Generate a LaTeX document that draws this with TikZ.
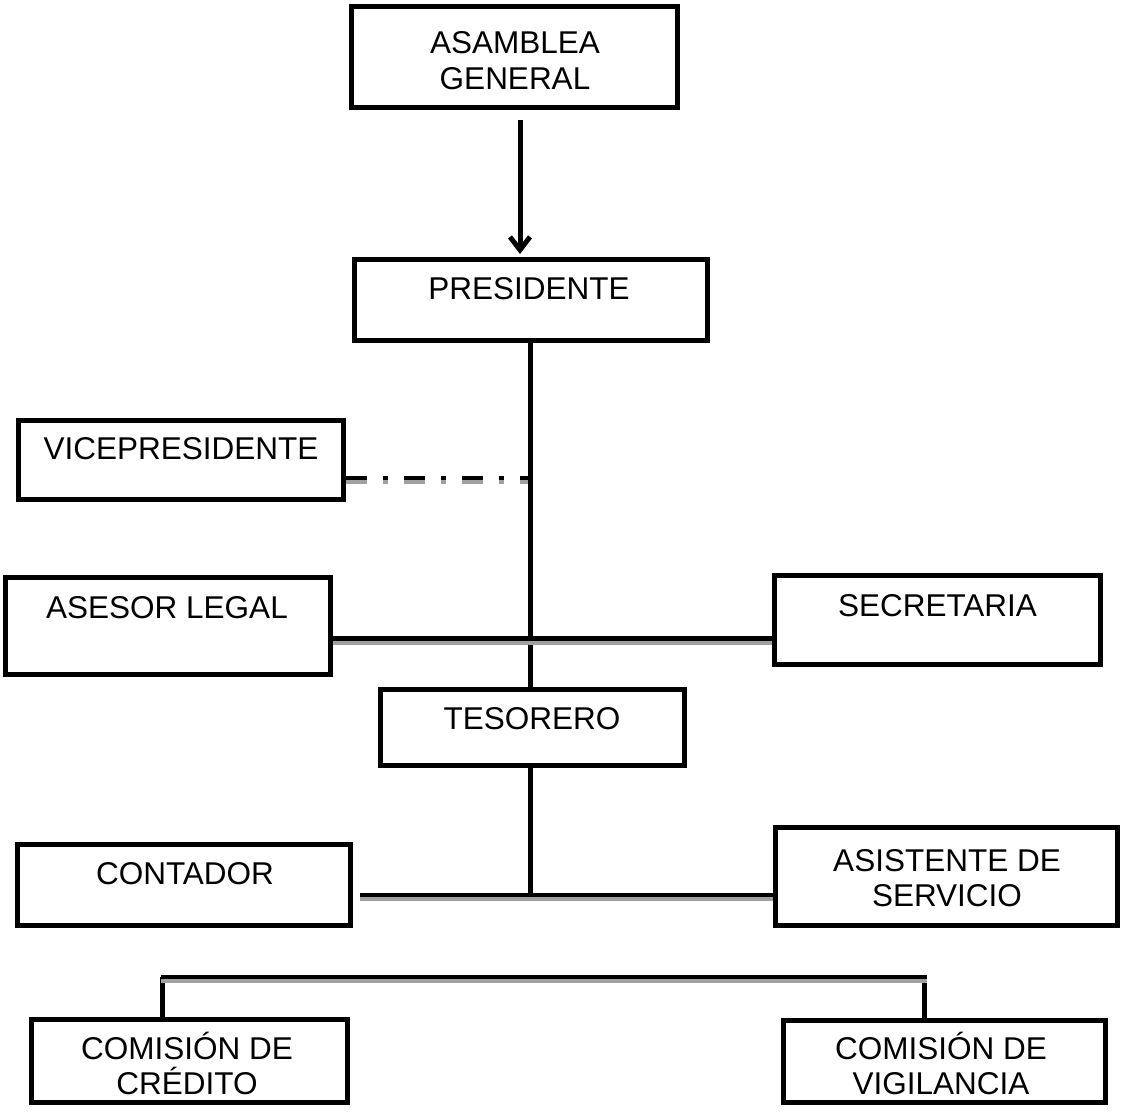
\documentclass[tikz,border=0pt]{standalone}
\usepackage{fontspec}
\setmainfont{Liberation Sans}
\usetikzlibrary{arrows.meta}
\definecolor{linegray}{HTML}{A0A0A0}
\begin{document}
\begin{tikzpicture}[x=1pt,y=-1pt,
  orgbox/.style={draw, line width=5pt, inner sep=0pt, fill=white},
  boxtext/.style={font=\fontsize{31.5}{35.5}\selectfont, anchor=base, align=center, inner sep=0pt},
  trunk/.style={draw, line width=5pt},
  hlink/.style={draw, line width=4.2pt,
    postaction={draw=linegray, line width=4pt, transform canvas={yshift=-4pt}}},
  dashlink/.style={hlink, dash pattern=on 21pt off 16pt on 5pt off 16pt}]
\useasboundingbox (0,0) rectangle (1121,1115);

% guide coordinates for the trunk lines
\coordinate (arrowx) at (520,0);
\coordinate (trunkx) at (530,0);
\coordinate (vicej)  at (528,478);
\coordinate (staffj) at (530,638.5);
\coordinate (opsj)   at (530,895);
\coordinate (comj)   at (0,977);

% boxes
\node[orgbox, minimum width=326, minimum height=101]  (asamblea)   at (514.5,57) {};
\node[orgbox, minimum width=353, minimum height=81]   (presidente) at (531,300) {};
\node[orgbox, minimum width=325, minimum height=79]   (vice)       at (181,460) {};
\node[orgbox, minimum width=325, minimum height=97]   (asesor)     at (168,626) {};
\node[orgbox, minimum width=326, minimum height=89]   (secretaria) at (937.5,620) {};
\node[orgbox, minimum width=304, minimum height=76]   (tesorero)   at (532.5,727.5) {};
\node[orgbox, minimum width=333, minimum height=81]   (contador)   at (184,885) {};
\node[orgbox, minimum width=342, minimum height=98]   (asistente)  at (946.5,876.5) {};
\node[orgbox, minimum width=316, minimum height=83]   (credito)    at (189.5,1061) {};
\node[orgbox, minimum width=322, minimum height=82]   (vigilancia) at (944.5,1061.5) {};

% box texts (multi-line nodes sit on the baseline of their last line)
\node[boxtext] (asamblea-t)   at (515,89.5)   {ASAMBLEA\\GENERAL};
\node[boxtext] (presidente-t) at (529,299.5)  {PRESIDENTE};
\node[boxtext] (vice-t)       at (181,459.5)  {VICEPRESIDENTE};
\node[boxtext] (asesor-t)     at (167,618.5)  {ASESOR LEGAL};
\node[boxtext] (secretaria-t) at (937.5,616.5) {SECRETARIA};
\node[boxtext] (tesorero-t)   at (532,729.5)  {TESORERO};
\node[boxtext] (contador-t)   at (185,884.5)  {CONTADOR};
\node[boxtext] (asistente-t)  at (947,906.5)  {ASISTENTE DE\\SERVICIO};
\node[boxtext] (credito-t)    at (187,1094.5) {COMISIÓN DE\\CRÉDITO};
\node[boxtext] (vigilancia-t) at (941,1094.5) {COMISIÓN DE\\VIGILANCIA};

% connectors
\draw[line width=5pt, shorten <=10pt, shorten >=3pt,
  -{Straight Barb[length=13pt, width=20pt]}]
  (asamblea.south -| arrowx) -- (presidente.north -| arrowx);
\draw[trunk] (presidente.south -| trunkx) -- (tesorero.north -| trunkx);
\draw[trunk] (tesorero.south -| trunkx) -- ([yshift=-2pt]opsj);
\draw[dashlink] (vice.east |- vicej) -- (vicej);
\draw[hlink] (asesor.east |- staffj) -- (secretaria.west |- staffj);
\draw[hlink] ([xshift=7pt]contador.east |- opsj) -- (asistente.west |- opsj);
\draw[line width=4.2pt] ([xshift=-27pt]credito.north |- comj) -- ([xshift=-27pt]credito.north)
  ([xshift=-20pt]vigilancia.north |- comj) -- ([xshift=-20pt]vigilancia.north);
\draw[hlink] ([xshift=-29pt]credito.north |- comj) -- ([xshift=-18pt]vigilancia.north |- comj);
\end{tikzpicture}
\end{document}
